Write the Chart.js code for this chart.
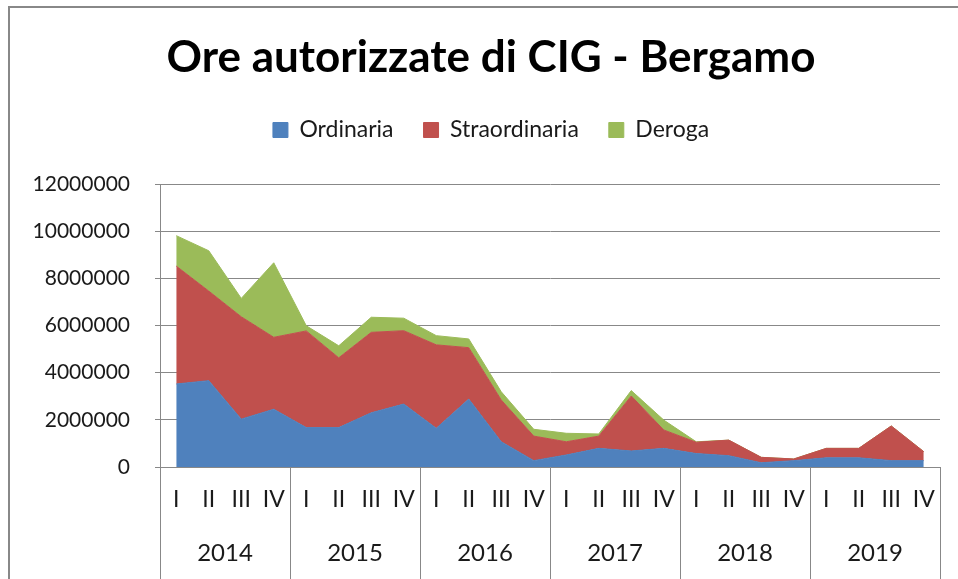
<!DOCTYPE html>
<html>
<head>
<meta charset="utf-8">
<script src="https://cdn.jsdelivr.net/npm/chart.js@4.4.0/dist/chart.umd.min.js"></script>
<style>
  html, body { margin: 0; padding: 0; background: #fff; overflow: hidden; }
  #wrap { position: relative; width: 958px; height: 579px; overflow: hidden; }
  #frame { position: absolute; left: 8px; top: 6px; width: 1000px; height: 700px;
           border-left: 2px solid #888; border-top: 2px solid #888; }
  canvas { position: absolute; left: 0; top: 0; }
</style>
</head>
<body>
<div id="wrap">
  <div id="frame"></div>
  <canvas id="myChart" width="958" height="579"></canvas>
</div>
<script>
// categories
const quarters = ['I', 'II', 'III', 'IV', 'I', 'II', 'III', 'IV', 'I', 'II', 'III', 'IV',
                  'I', 'II', 'III', 'IV', 'I', 'II', 'III', 'IV', 'I', 'II', 'III', 'IV'];
const years = ['2014', '2015', '2016', '2017', '2018', '2019'];

// ore autorizzate per trimestre
const ordinaria = [3520000, 3660000, 2030000, 2450000, 1670000, 1670000, 2300000, 2670000,
                   1640000, 2880000, 1070000, 270000, 510000, 790000, 680000, 790000,
                   570000, 480000, 180000, 270000, 390000, 390000, 270000, 270000];
const straordinaria = [5000000, 3800000, 4340000, 3050000, 4100000, 2960000, 3410000, 3110000,
                       3540000, 2180000, 1770000, 1040000, 560000, 520000, 2330000, 780000,
                       480000, 660000, 230000, 70000, 400000, 400000, 1470000, 380000];
const deroga = [1290000, 1710000, 780000, 3160000, 220000, 510000, 640000, 530000,
                390000, 370000, 350000, 290000, 360000, 90000, 230000, 420000,
                20000, 0, 0, 0, 0, 0, 0, 0];

const yTicks = [0, 2000000, 4000000, 6000000, 8000000, 10000000, 12000000];

const FONT = 'Lato';
const GRID = '#888888';
const TEXT = '#1a1a1a';

// extra gap under the legend, and title/legend nudged right a bit
const legendGap = {
  id: 'legendGap',
  beforeInit(chart) {
    const fit = chart.legend.fit;
    chart.legend.fit = function () {
      fit.bind(chart.legend)();
      this.height += 32.5;
    };
  },
  afterLayout(chart) {
    [chart.titleBlock, chart.legend].forEach(b => { b.left += 8; b.right += 8; });
  }
};

function area(label, data, color, fill) {
  return {
    label: label,
    data: data,
    backgroundColor: color,
    borderColor: color,
    borderWidth: 1,
    pointRadius: 0,
    tension: 0,
    fill: fill
  };
}

const ctx = document.getElementById('myChart');
const myChart = new Chart(ctx, {
  type: 'line',
  data: {
    labels: quarters,
    datasets: [
      area('Ordinaria', ordinaria, '#4F81BD', 'origin'),
      area('Straordinaria', straordinaria, '#C0504D', '-1'),
      area('Deroga', deroga, '#9BBB59', '-1')
    ]
  },
  options: {
    responsive: false,
    animation: false,
    layout: { padding: { left: 26, right: 18, top: 0, bottom: 0 } },
    plugins: {
      title: {
        display: true,
        text: 'Ore autorizzate di CIG - Bergamo',
        color: '#000',
        font: { family: FONT, size: 44, weight: 'bold' },
        padding: { top: 31.6, bottom: 4.1 }
      },
      legend: {
        display: true,
        position: 'top',
        labels: {
          boxWidth: 15,
          boxHeight: 15,
          padding: 30,
          color: TEXT,
          font: { family: FONT, size: 23 }
        }
      },
      tooltip: { enabled: false }
    },
    scales: {
      x: {
        type: 'category',
        offset: true,
        weight: 0,
        border: { display: true, color: GRID, width: 1 },
        grid: {
          offset: true,
          drawOnChartArea: false,
          tickLength: 112,
          color: c => (c.type !== 'tick' || c.index % 4 === 0) ? GRID : 'rgba(0,0,0,0)'
        },
        ticks: {
          autoSkip: false,
          maxRotation: 0,
          padding: -92.8,
          color: TEXT,
          font: { family: FONT, size: 23 }
        },
        afterFit: s => { s.height = 45; }
      },
      x2: {
        type: 'category',
        position: 'bottom',
        labels: years,
        offset: true,
        weight: 1,
        border: { display: false },
        grid: { display: false, drawTicks: false },
        ticks: {
          autoSkip: false,
          maxRotation: 0,
          padding: 26.6,
          color: TEXT,
          font: { family: FONT, size: 24 }
        },
        afterFit: s => { s.height = 67; }
      },
      y: {
        stacked: true,
        min: 0,
        max: 12000000,
        border: { display: true, color: GRID, width: 1 },
        grid: { color: GRID, tickLength: 5 },
        afterBuildTicks: s => { s.ticks = yTicks.map(v => ({ value: v })); },
        ticks: {
          padding: 25,
          color: TEXT,
          font: { family: FONT, size: 21 },
          callback: v => String(v)
        },
        afterFit: s => { s.width = 134; }
      }
    }
  },
  plugins: [legendGap]
});
</script>
</body>
</html>
